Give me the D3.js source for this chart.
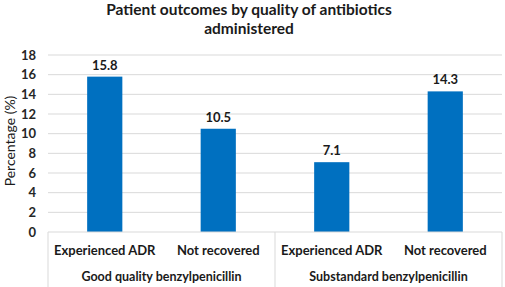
<html>
<head>
<script src="https://cdn.jsdelivr.net/npm/d3@7"></script>
<style>
  body { margin: 0; background: white; }
  text { font-family: Lato, "Open Sans", sans-serif; }
</style>
</head>
<body>
<svg id="chart" width="505" height="287"></svg>
<script>
    let groups = ["Good quality benzylpenicillin", "Substandard benzylpenicillin"]
    let outcomes = ["Experienced ADR", "Not recovered"]
    let values = [15.8, 10.5, 7.1, 14.3]
    let yTicks = [0, 2, 4, 6, 8, 10, 12, 14, 16, 18]

    let svg = d3.select("#chart")
    let plotLeft = 48, plotRight = 502, plotTop = 55, plotBottom = 232

    let cats = []
    groups.forEach(g => outcomes.forEach(o => cats.push(g + "|" + o)))

    let x = d3.scaleBand()
        .domain(cats)
        .range([plotLeft, plotRight])
        .paddingInner(0.69)
        .paddingOuter(0.345)

    let y = d3.scaleLinear()
        .domain([0, 18])
        .range([plotBottom, plotTop])

    // gridlines
    svg.append("g").selectAll("line")
        .data(yTicks.slice(1))
        .enter().append("line")
        .attr("x1", plotLeft).attr("x2", plotRight)
        .attr("y1", d => y(d)).attr("y2", d => y(d))
        .attr("stroke", "#d9d9d9")
        .attr("stroke-width", 1)

    // y tick labels
    svg.append("g").selectAll("text")
        .data(yTicks)
        .enter().append("text")
        .attr("x", 36)
        .attr("y", d => y(d))
        .attr("dy", "0.35em")
        .attr("text-anchor", "end")
        .attr("font-weight", "bold")
        .attr("font-size", 13)
        .attr("fill", "#262626")
        .text(d => d)

    // bars
    svg.append("g").selectAll("rect")
        .data(values)
        .enter().append("rect")
        .attr("x", (d, i) => x(cats[i]))
        .attr("width", x.bandwidth())
        .attr("y", d => y(d))
        .attr("height", d => y(0) - y(d))
        .attr("fill", "#0070c0")

    // value labels
    svg.append("g").selectAll("text")
        .data(values)
        .enter().append("text")
        .attr("x", (d, i) => x(cats[i]) + x.bandwidth() / 2)
        .attr("y", d => y(d) - 7)
        .attr("text-anchor", "middle")
        .attr("font-weight", "bold")
        .attr("font-size", 13)
        .attr("fill", "#1a1a1a")
        .text(d => d.toFixed(1))

    // x axis line and separators
    svg.append("line")
        .attr("x1", plotLeft).attr("x2", plotRight)
        .attr("y1", plotBottom).attr("y2", plotBottom)
        .attr("stroke", "#d9d9d9")
    let step = x.step()
    let seps = [plotLeft, plotLeft + step * 2, plotRight]
    svg.append("g").selectAll("line")
        .data(seps)
        .enter().append("line")
        .attr("x1", d => d).attr("x2", d => d)
        .attr("y1", plotBottom).attr("y2", 287)
        .attr("stroke", "#d9d9d9")

    // category labels
    svg.append("g").selectAll("text")
        .data(cats)
        .enter().append("text")
        .attr("x", d => x(d) + x.bandwidth() / 2)
        .attr("y", 250)
        .attr("dy", "0.35em")
        .attr("text-anchor", "middle")
        .attr("font-weight", "bold")
        .attr("font-size", 13)
        .attr("fill", "#1a1a1a")
        .text(d => d.split("|")[1])

    // group labels
    svg.append("g").selectAll("text")
        .data(groups)
        .enter().append("text")
        .attr("x", (d, i) => plotLeft + step * 2 * i + step)
        .attr("y", 277)
        .attr("dy", "0.35em")
        .attr("text-anchor", "middle")
        .attr("font-weight", "bold")
        .attr("font-size", 12.5)
        .attr("fill", "#1a1a1a")
        .text(d => d)

    // y axis title
    svg.append("text")
        .attr("transform", "translate(10,141) rotate(-90)")
        .attr("dy", "0.35em")
        .attr("text-anchor", "middle")
        .attr("font-size", 14)
        .attr("fill", "#1a1a1a")
        .text("Percentage (%)")

    // title
    let title = svg.append("text")
        .attr("text-anchor", "middle")
        .attr("font-weight", "bold")
        .attr("font-size", 15.5)
        .attr("fill", "#1a1a1a")
    title.append("tspan").attr("x", 249).attr("y", 15).text("Patient outcomes by quality of antibiotics")
    title.append("tspan").attr("x", 249).attr("y", 34).text("administered")
</script>
</body>
</html>
